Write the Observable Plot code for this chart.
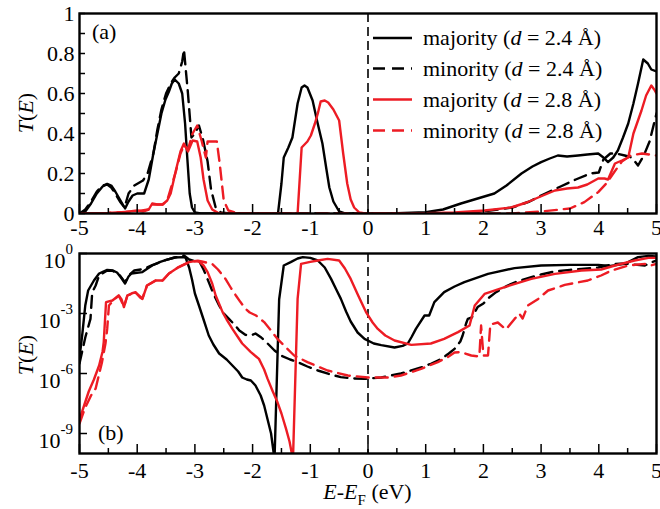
<!DOCTYPE html>
<html><head><meta charset="utf-8">
<script src="https://cdn.jsdelivr.net/npm/d3@7"></script>
<script src="https://cdn.jsdelivr.net/npm/@observablehq/plot@0.6"></script>
<style>
body{margin:0;background:#fff;}
#wrap{position:relative;width:660px;height:509px;font-family:"Liberation Serif","DejaVu Serif",serif;}
#wrap svg{position:absolute;left:0;}
#wrap svg text{font-family:"Liberation Serif","DejaVu Serif",serif;}
</style></head><body><div id="wrap"></div>
<script>
// ---------- tick values / labels ----------
const xMajorTicks = [-5,-4,-3,-2,-1,0,1,2,3,4,5];
const xMinorTicks = [-4.5,-3.5,-2.5,-1.5,-0.5,0.5,1.5,2.5,3.5,4.5];
const aYTicks = [0,0.1,0.2,0.3,0.4,0.5,0.6,0.7,0.8,0.9,1];
const aYLabelTicks = [0,0.2,0.4,0.6,0.8,1];
const bYTicks = [1,1e-3,1e-6,1e-9];
const bYExponents = ["0","-3","-6","-9"];

// ---------- legend ----------
const legendKinds = ["majority","minority","majority","minority"];
const legendD = ["2.4","2.4","2.8","2.8"];

// ---------- panel (a): T(E), linear ----------
const aMaj24 = [[-5,0],[-4.9,0.01],[-4.8,0.05],[-4.7,0.1],[-4.6,0.135],[-4.52,0.148],[-4.45,0.14],[-4.38,0.11],[-4.3,0.07],[-4.21,0.025],[-4.15,0.06],[-4.08,0.09],[-4,0.1],[-3.88,0.1],[-3.8,0.17],[-3.72,0.3],[-3.65,0.4],[-3.58,0.5],[-3.51,0.57],[-3.45,0.61],[-3.4,0.65],[-3.35,0.67],[-3.28,0.65],[-3.22,0.6],[-3.17,0.45],[-3.13,0.27],[-3.09,0.1],[-3.05,0.03],[-3,0.005],[-2.9,0],[-1.56,0],[-1.5,0.15],[-1.46,0.28],[-1.38,0.33],[-1.31,0.38],[-1.22,0.55],[-1.15,0.63],[-1.1,0.64],[-1.05,0.63],[-0.96,0.565],[-0.88,0.46],[-0.79,0.35],[-0.72,0.22],[-0.67,0.13],[-0.6,0.06],[-0.5,0.01],[-0.4,0],[0,0],[0.5,0.001],[1,0.006],[1.3,0.02],[1.61,0.05],[1.9,0.075],[2.19,0.1],[2.4,0.14],[2.66,0.2],[2.85,0.235],[3,0.257],[3.15,0.275],[3.29,0.29],[3.45,0.285],[3.64,0.29],[3.8,0.295],[3.99,0.3],[4.08,0.28],[4.16,0.257],[4.25,0.28],[4.33,0.315],[4.42,0.38],[4.51,0.45],[4.6,0.55],[4.68,0.65],[4.77,0.77],[4.85,0.75],[4.91,0.72],[5,0.71]];
const aMin24 = [[-5,0],[-4.9,0.02],[-4.8,0.06],[-4.7,0.11],[-4.6,0.14],[-4.52,0.145],[-4.45,0.13],[-4.38,0.1],[-4.3,0.06],[-4.22,0.03],[-4.15,0.1],[-4.05,0.14],[-3.9,0.165],[-3.82,0.2],[-3.72,0.3],[-3.65,0.42],[-3.58,0.52],[-3.5,0.6],[-3.42,0.65],[-3.35,0.68],[-3.28,0.7],[-3.22,0.76],[-3.19,0.82],[-3.12,0.6],[-3.06,0.38],[-3,0.4],[-2.93,0.44],[-2.86,0.37],[-2.78,0.26],[-2.72,0.12],[-2.64,0.03],[-2.55,0.005],[-2.4,0],[1.5,0],[2,0.01],[2.5,0.03],[2.8,0.06],[3,0.09],[3.3,0.13],[3.6,0.17],[3.85,0.2],[4,0.205],[4.08,0.27],[4.2,0.3],[4.3,0.3],[4.45,0.29],[4.57,0.28],[4.68,0.24],[4.78,0.29],[4.88,0.36],[4.97,0.465],[5,0.5]];
const aMaj28 = [[-5,0],[-4.5,0.003],[-4.2,0.008],[-4,0.015],[-3.9,0.01],[-3.8,0.02],[-3.74,0.05],[-3.65,0.045],[-3.56,0.045],[-3.48,0.065],[-3.42,0.1],[-3.33,0.215],[-3.25,0.31],[-3.19,0.35],[-3.12,0.31],[-3.04,0.365],[-2.96,0.36],[-2.9,0.28],[-2.85,0.17],[-2.78,0.065],[-2.7,0.02],[-2.6,0.003],[-2.5,0],[-1.22,0],[-1.15,0.33],[-1.05,0.36],[-0.99,0.39],[-0.92,0.45],[-0.87,0.5],[-0.82,0.56],[-0.75,0.565],[-0.69,0.555],[-0.6,0.52],[-0.5,0.465],[-0.43,0.3],[-0.36,0.15],[-0.3,0.07],[-0.24,0.03],[-0.15,0.005],[-0.05,0],[1,0.001],[1.5,0.005],[2.02,0.015],[2.48,0.03],[2.75,0.055],[2.95,0.08],[3.24,0.115],[3.45,0.125],[3.64,0.13],[3.8,0.145],[3.99,0.175],[4.1,0.175],[4.16,0.17],[4.22,0.21],[4.28,0.25],[4.4,0.265],[4.51,0.28],[4.6,0.4],[4.74,0.515],[4.82,0.59],[4.91,0.64],[4.96,0.62],[5,0.6]];
const aMin28 = [[-5,0],[-4.5,0.003],[-4,0.012],[-3.8,0.02],[-3.74,0.045],[-3.56,0.045],[-3.48,0.065],[-3.33,0.21],[-3.25,0.3],[-3.19,0.34],[-3.12,0.32],[-3.04,0.4],[-2.96,0.44],[-2.88,0.36],[-2.81,0.28],[-2.78,0.36],[-2.62,0.36],[-2.57,0.25],[-2.5,0.065],[-2.42,0.015],[-2.3,0.005],[-2.2,0],[2.5,0],[3,0.01],[3.5,0.025],[3.75,0.057],[3.99,0.107],[4.13,0.15],[4.25,0.2],[4.4,0.26],[4.55,0.29],[4.75,0.3],[5,0.29]];

// ---------- panel (b): log10 T(E) ----------
const bMaj24 = [[-5,-5.2],[-4.95,-4],[-4.9,-2.6],[-4.85,-1.85],[-4.75,-1.35],[-4.66,-1],[-4.52,-0.82],[-4.42,-0.85],[-4.35,-0.95],[-4.28,-1.2],[-4.21,-1.5],[-4.15,-1.15],[-4.1,-1],[-3.91,-0.93],[-3.82,-0.75],[-3.74,-0.6],[-3.6,-0.42],[-3.51,-0.33],[-3.35,-0.2],[-3.2,-0.18],[-3.16,-0.22],[-3.1,-0.7],[-3.05,-1.3],[-3,-2],[-2.93,-2.6],[-2.85,-3.3],[-2.76,-4.1],[-2.68,-4.55],[-2.58,-5],[-2.45,-5.3],[-2.35,-5.6],[-2.25,-5.9],[-2.18,-6.2],[-2.1,-6.3],[-2.03,-6.35],[-1.95,-6.6],[-1.86,-7.1],[-1.8,-7.6],[-1.74,-8.3],[-1.68,-9],[-1.62,-10.3],[-1.54,-2.3],[-1.46,-0.6],[-1.34,-0.43],[-1.22,-0.25],[-1.13,-0.18],[-1,-0.22],[-0.87,-0.35],[-0.75,-0.7],[-0.64,-1.27],[-0.55,-1.8],[-0.47,-2.27],[-0.38,-2.9],[-0.3,-3.4],[-0.18,-3.95],[-0.06,-4.27],[0.1,-4.5],[0.23,-4.58],[0.46,-4.7],[0.6,-4.62],[0.69,-4.5],[0.76,-4.15],[0.83,-3.77],[0.98,-3.1],[1.06,-3.1],[1.15,-2.43],[1.32,-1.93],[1.5,-1.65],[1.67,-1.43],[2.08,-1.02],[2.54,-0.73],[3,-0.6],[3.5,-0.57],[3.99,-0.57],[4.2,-0.62],[4.45,-0.52],[4.68,-0.18],[4.86,-0.12],[5,-0.15]];
const bMin24 = [[-5,-5.5],[-4.9,-4.2],[-4.81,-3.27],[-4.78,-1.95],[-4.72,-1.6],[-4.66,-1.1],[-4.52,-0.85],[-4.42,-0.87],[-4.3,-1.1],[-4.21,-1.45],[-4.15,-1.1],[-4.05,-0.85],[-3.9,-0.78],[-3.74,-0.58],[-3.51,-0.33],[-3.35,-0.2],[-3.19,-0.1],[-3.1,-0.3],[-3,-0.38],[-2.93,-0.35],[-2.85,-0.8],[-2.76,-1.43],[-2.68,-2],[-2.58,-2.6],[-2.5,-3],[-2.41,-3.27],[-2.3,-3.6],[-2.23,-3.85],[-2.12,-4.07],[-2.03,-4.1],[-1.95,-4],[-1.85,-4.2],[-1.74,-4.5],[-1.62,-4.85],[-1.51,-5.1],[-1.35,-5.3],[-1.22,-5.43],[-1.05,-5.65],[-0.87,-5.85],[-0.65,-6.05],[-0.47,-6.18],[-0.25,-6.25],[-0.06,-6.27],[0.23,-6.2],[0.57,-6],[0.92,-5.7],[1.1,-5.5],[1.27,-5.27],[1.4,-5],[1.5,-4.77],[1.6,-4.4],[1.64,-4.1],[1.7,-3.5],[1.73,-3.27],[1.8,-3.2],[1.9,-2.68],[2,-2.5],[2.1,-2.2],[2.22,-1.93],[2.42,-1.6],[2.6,-1.38],[2.83,-1.18],[3,-1.05],[3.23,-0.9],[3.5,-0.82],[3.7,-0.77],[3.99,-0.7],[4.28,-0.52],[4.45,-0.5],[4.6,-0.55],[4.8,-0.6],[4.9,-0.45],[5,-0.35]];
const bMaj28 = [[-5,-8.3],[-4.92,-7.6],[-4.84,-6.9],[-4.75,-6.3],[-4.66,-5.6],[-4.6,-4.9],[-4.58,-4.43],[-4.54,-2.43],[-4.43,-2.35],[-4.32,-2.1],[-4.27,-2.3],[-4.23,-2.68],[-4.17,-2.1],[-4.1,-2],[-4.03,-1.93],[-3.95,-2.2],[-3.91,-2.27],[-3.83,-1.6],[-3.68,-1.35],[-3.56,-1.35],[-3.45,-1],[-3.28,-0.68],[-3.1,-0.43],[-3,-0.38],[-2.93,-0.4],[-2.85,-0.6],[-2.78,-0.93],[-2.7,-1.5],[-2.64,-2.1],[-2.52,-2.93],[-2.45,-3.3],[-2.35,-3.77],[-2.25,-4.2],[-2.18,-4.5],[-2.03,-4.93],[-1.94,-5.15],[-1.89,-5.27],[-1.8,-5.8],[-1.74,-6.27],[-1.65,-6.9],[-1.57,-7.43],[-1.5,-8],[-1.42,-8.77],[-1.36,-9.4],[-1.3,-10.3],[-1.22,-2.27],[-1.16,-0.52],[-1,-0.42],[-0.87,-0.35],[-0.7,-0.27],[-0.5,-0.35],[-0.4,-0.75],[-0.3,-1.27],[-0.17,-2.1],[-0.035,-2.93],[0.08,-3.45],[0.17,-3.77],[0.3,-4.1],[0.46,-4.35],[0.75,-4.57],[1.09,-4.5],[1.32,-4.27],[1.56,-3.93],[1.76,-3.6],[1.85,-2.6],[2.02,-2.02],[2.37,-1.68],[2.83,-1.27],[3.24,-1.02],[3.7,-0.85],[4.04,-0.8],[4.28,-0.6],[4.62,-0.35],[4.86,-0.22],[5,-0.22]];
const bMin28 = [[-5,-8.5],[-4.9,-7.7],[-4.8,-7.1],[-4.72,-6.75],[-4.61,-5.43],[-4.55,-4.5],[-4.52,-3.77],[-4.49,-2.6],[-4.43,-2.4],[-4.32,-2.1],[-4.23,-2.65],[-4.17,-2.1],[-4.03,-1.95],[-3.91,-2.25],[-3.83,-1.6],[-3.68,-1.35],[-3.56,-1.35],[-3.45,-1],[-3.28,-0.68],[-3.1,-0.43],[-2.95,-0.36],[-2.88,-0.4],[-2.7,-0.52],[-2.6,-0.8],[-2.47,-1.27],[-2.37,-1.75],[-2.29,-2.1],[-2.21,-2.43],[-2.12,-2.77],[-2.05,-2.95],[-1.94,-3.1],[-1.8,-3.43],[-1.68,-3.85],[-1.57,-4.27],[-1.42,-4.7],[-1.28,-5.1],[-1.05,-5.43],[-0.87,-5.65],[-0.7,-5.85],[-0.35,-6.1],[0,-6.2],[0.35,-6.2],[0.57,-6.1],[0.92,-5.77],[1.21,-5.43],[1.38,-5.18],[1.5,-4.95],[1.61,-4.93],[1.79,-5.1],[1.93,-5.15],[1.96,-3.6],[2,-5.1],[2.08,-5.1],[2.12,-3.55],[2.25,-3.45],[2.39,-3.8],[2.54,-3.27],[2.62,-3],[2.68,-3.25],[2.77,-2.6],[2.95,-2.27],[3.12,-1.85],[3.41,-1.57],[3.81,-1.35],[4.04,-1.1],[4.22,-0.85],[4.51,-0.6],[4.8,-0.52],[4.9,-0.6],[5,-0.52]];

// ---------- styles ----------
const RED = "#ed1c24";
const seriesStyleA = [
  {data: aMaj24, stroke: "#000", dash: null},
  {data: aMin24, stroke: "#000", dash: "12,7"},
  {data: aMaj28, stroke: RED, dash: null},
  {data: aMin28, stroke: RED, dash: "12,7"}
];
const seriesStyleB = [
  {data: bMaj24, stroke: "#000", dash: null},
  {data: bMin24, stroke: "#000", dash: "12,7"},
  {data: bMaj28, stroke: RED, dash: null},
  {data: bMin28, stroke: RED, dash: "12,7"}
];
const FONT = "Liberation Serif, DejaVu Serif, serif";
const ML = 79, MR = 4, W = 660;
const FW = W - ML - MR;       // frame width
const FH = 200;               // frame height
const fmt = d => String(d);

function lineMarks(styles, yAcc) {
  return styles.map(s => Plot.line(s.data, {
    x: d => d[0], y: yAcc, stroke: s.stroke, strokeWidth: 2.4,
    strokeDasharray: s.dash || undefined, clip: true, curve: "linear"
  }));
}

// ---------- panel (a) ----------
const plotA = Plot.plot({
  width: W, height: 240,
  marginLeft: ML, marginRight: MR, marginTop: 13, marginBottom: 27,
  style: {fontFamily: FONT, fontSize: "22px", background: "transparent", overflow: "visible", color: "#000"},
  x: {domain: [-5, 5]},
  y: {domain: [0, 1]},
  marks: [
    Plot.ruleX([0], {stroke: "#000", strokeWidth: 1.6, strokeDasharray: "9,5"}),
    ...lineMarks(seriesStyleA, d => d[1]),
    Plot.tickX(xMajorTicks, {x: d => d, insetTop: FH - 9, strokeWidth: 1.5}),
    Plot.tickX(xMinorTicks, {x: d => d, insetTop: FH - 5, strokeWidth: 1.5}),
    Plot.tickY(aYTicks, {y: d => d, insetRight: FW - 6, strokeWidth: 1.5}),
    Plot.axisX({ticks: xMajorTicks, tickSize: 0, tickPadding: 6, tickFormat: fmt, label: null}),
    Plot.axisY({ticks: aYLabelTicks, tickSize: 0, tickPadding: 5, tickFormat: fmt, label: null}),
    Plot.frame({stroke: "#000", strokeWidth: 2.4})
  ]
});

// ---------- panel (b) ----------
const plotB = Plot.plot({
  width: W, height: 269,
  marginLeft: ML, marginRight: MR, marginTop: 13, marginBottom: 56,
  style: {fontFamily: FONT, fontSize: "22px", background: "transparent", overflow: "visible", color: "#000"},
  x: {domain: [-5, 5]},
  y: {type: "log", domain: [1e-10, 1], axis: null},
  marks: [
    Plot.ruleX([0], {stroke: "#000", strokeWidth: 1.6, strokeDasharray: "9,5"}),
    ...lineMarks(seriesStyleB, d => 10 ** d[1]),
    Plot.tickX(xMajorTicks, {x: d => d, insetTop: FH - 9, strokeWidth: 1.5}),
    Plot.tickX(xMinorTicks, {x: d => d, insetTop: FH - 5, strokeWidth: 1.5}),
    Plot.tickY(bYTicks, {y: d => d, insetRight: FW - 8, strokeWidth: 1.5}),
    Plot.axisX({ticks: xMajorTicks, tickSize: 0, tickPadding: 9, tickFormat: fmt, label: null}),
    Plot.frame({stroke: "#000", strokeWidth: 2.4})
  ]
});

const wrap = document.getElementById("wrap");
plotA.style.top = "0px";
plotB.style.top = "240px";
wrap.appendChild(plotA);
wrap.appendChild(plotB);

// ---------- text decorations ----------
function addText(svg, x, y, anchor) {
  return d3.select(svg).append("text").attr("x", x).attr("y", y)
    .attr("text-anchor", anchor).attr("font-size", 22).attr("fill", "#000");
}
function yTitle(svg, cy) {
  const t = d3.select(svg).append("text")
    .attr("transform", `translate(33,${cy}) rotate(-90)`)
    .attr("text-anchor", "middle").attr("font-size", 22).attr("fill", "#000");
  t.append("tspan").attr("font-style", "italic").text("T");
  t.append("tspan").text("(");
  t.append("tspan").attr("font-style", "italic").text("E");
  t.append("tspan").text(")");
}
yTitle(plotA, 113);
yTitle(plotB, 355 - 240);

// panel labels
addText(plotA, 92, 39, "start").text("(a)");
addText(plotB, 98, 440 - 240, "start").text("(b)");

// log axis labels with superscripts
const yB = plotB.scale("y");
bYTicks.forEach((v, i) => {
  const py = yB.apply(v);
  const t = addText(plotB, ML - 6, py + 15, "end");
  t.append("tspan").text("10");
  t.append("tspan").attr("font-size", 15).attr("dy", -14).text(bYExponents[i]);
});

// x title
const xt = addText(plotB, ML + FW / 2, 499 - 240, "middle");
xt.append("tspan").attr("font-style", "italic").text("E");
xt.append("tspan").text("-");
xt.append("tspan").attr("font-style", "italic").text("E");
xt.append("tspan").attr("font-size", 15).attr("dy", 6).text("F");
xt.append("tspan").attr("dy", -6).text(" (eV)");

// legend
const gL = d3.select(plotA).append("g");
const legendRows = [38, 68.5, 99.5, 130.5];
seriesStyleA.forEach((s, i) => {
  const y = legendRows[i];
  gL.append("line").attr("x1", 373).attr("x2", 412).attr("y1", y).attr("y2", y)
    .attr("stroke", s.stroke).attr("stroke-width", 2.4)
    .attr("stroke-dasharray", s.dash || null);
  const t = addText(plotA, 423, y + 7, "start");
  t.append("tspan").text(legendKinds[i] + " (");
  t.append("tspan").attr("font-style", "italic").text("d");
  t.append("tspan").text(" = " + legendD[i] + " Å)");
});
</script>
</body></html>
